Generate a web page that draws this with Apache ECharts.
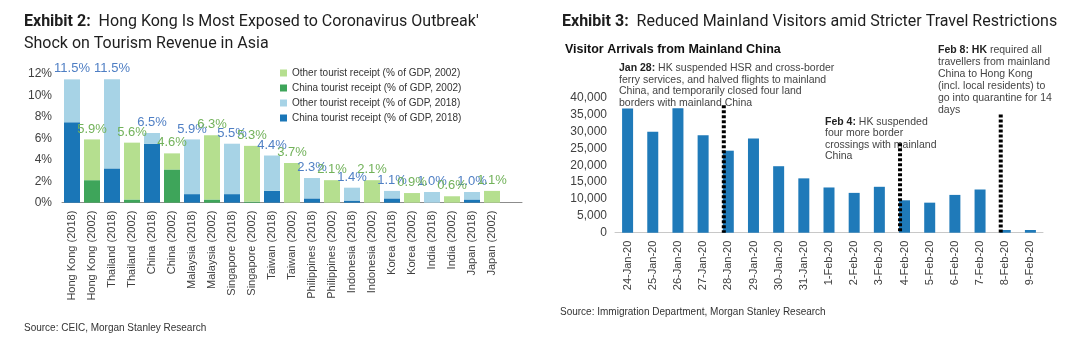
<!DOCTYPE html>
<html>
<head>
<meta charset="utf-8">
<script src="https://cdn.jsdelivr.net/npm/echarts@6/dist/echarts.min.js"></script>
<style>
  html, body { margin: 0; padding: 0; background: #ffffff; }
  #chart { width: 1080px; height: 349px; }
</style>
</head>
<body>
<div id="chart"></div>
<script>
// ---- Exhibit 2: tourism receipts as % of GDP ----
const tourismCategories = [
  'Hong Kong (2018)', 'Hong Kong (2002)', 'Thailand (2018)', 'Thailand (2002)',
  'China (2018)', 'China (2002)', 'Malaysia (2018)', 'Malaysia (2002)',
  'Singapore (2018)', 'Singapore (2002)', 'Taiwan (2018)', 'Taiwan (2002)',
  'Philippines (2018)', 'Philippines (2002)', 'Indonesia (2018)', 'Indonesia (2002)',
  'Korea (2018)', 'Korea (2002)', 'India (2018)', 'India (2002)',
  'Japan (2018)', 'Japan (2002)'
];
// total tourist receipts (% of GDP)
const totalReceipts = [11.5, 5.9, 11.5, 5.6, 6.5, 4.6, 5.9, 6.3, 5.5, 5.3, 4.4, 3.7,
                       2.3, 2.1, 1.4, 2.1, 1.1, 0.9, 1.0, 0.6, 1.0, 1.1];
// receipts from Chinese tourists (% of GDP)
const chinaReceipts = [7.5, 2.1, 3.2, 0.3, 5.5, 3.1, 0.8, 0.3, 0.8, 0.1, 1.1, 0,
                       0.4, 0, 0.2, 0, 0.4, 0, 0, 0, 0.3, 0];
const receiptTicks = [0, 2, 4, 6, 8, 10, 12];

// ---- Exhibit 3: daily visitor arrivals from mainland China ----
const arrivalDates = ['24-Jan-20', '25-Jan-20', '26-Jan-20', '27-Jan-20', '28-Jan-20',
  '29-Jan-20', '30-Jan-20', '31-Jan-20', '1-Feb-20', '2-Feb-20', '3-Feb-20',
  '4-Feb-20', '5-Feb-20', '6-Feb-20', '7-Feb-20', '8-Feb-20', '9-Feb-20'];
const arrivals = [36800, 29900, 36900, 28900, 24300, 27900, 19700, 16100, 13400,
                  11800, 13600, 9600, 8900, 11200, 12800, 800, 800];
// policy events: date and height of the marker line
const eventDates = ['28-Jan-20', '4-Feb-20', '8-Feb-20'];
const eventLineTops = [37800, 26500, 35000];

const FONT = '"Liberation Sans", Arial, sans-serif';
const C = {
  china18: '#1a76b7', other18: '#a7d3e6',
  china02: '#3ea55a', other02: '#b5df8f',
  label18: '#4f7fc4', label02: '#72b25a',
  arrivals: '#1f7ab9'
};

const is2018 = tourismCategories.map(c => c.indexOf('2018') >= 0);
const pick = (arr, want2018) => arr.map((v, i) => (is2018[i] === want2018 ? v : null));
const otherReceipts = totalReceipts.map((t, i) => +(t - chinaReceipts[i]).toFixed(2));

// trailing blank band keeps the axis running past the last pair
const tourismAxis = tourismCategories.concat(['']);

function totalLabel(color) {
  return {
    show: true, position: 'top', distance: 4,
    fontFamily: FONT, fontSize: 13, color: color,
    formatter: p => totalReceipts[p.dataIndex].toFixed(1) + '%'
  };
}

const chart = echarts.init(document.getElementById('chart'));
const barW = 11;

const noteStyle = (text, lh) => ({
  text: text,
  font: '10.5px ' + FONT, fill: '#444', lineHeight: lh,
  rich: { b: { fontFamily: FONT, fontSize: 10.5, fontWeight: 'bold', fill: '#222', lineHeight: lh } }
});

chart.setOption({
  animation: false,
  textStyle: { fontFamily: FONT },
  grid: [
    { left: 62, top: 74, width: 460, height: 128.7 },
    { left: 615, top: 97.7, width: 428, height: 135 }
  ],
  legend: {
    left: 275, top: 62, orient: 'vertical',
    icon: 'rect', itemWidth: 7, itemHeight: 7, itemGap: 3,
    textStyle: { fontFamily: FONT, fontSize: 10, color: '#333', lineHeight: 12 },
    data: ['Other tourist receipt (% of GDP, 2002)', 'China tourist receipt (% of GDP, 2002)',
           'Other tourist receipt (% of GDP, 2018)', 'China tourist receipt (% of GDP, 2018)']
  },
  xAxis: [
    {
      gridIndex: 0, type: 'category', data: tourismAxis,
      axisLine: { lineStyle: { color: '#8c8c8c' } },
      axisTick: { interval: 1, length: 4, lineStyle: { color: '#8c8c8c' } },
      axisLabel: { interval: 0, rotate: 90, margin: 8, fontSize: 11, color: '#404040', fontFamily: FONT }
    },
    {
      gridIndex: 1, type: 'category', data: arrivalDates,
      axisLine: { lineStyle: { color: '#c8c8c8' } },
      axisTick: { interval: 0, length: 4, lineStyle: { color: '#c8c8c8' } },
      axisLabel: { interval: 0, rotate: 90, margin: 8, fontSize: 11, color: '#404040', fontFamily: FONT }
    }
  ],
  yAxis: [
    {
      gridIndex: 0, type: 'value',
      min: receiptTicks[0], max: receiptTicks[receiptTicks.length - 1], interval: 2,
      axisLine: { show: false }, axisTick: { show: false }, splitLine: { show: false },
      axisLabel: { fontSize: 12, color: '#404040', margin: 10, fontFamily: FONT, formatter: '{value}%' }
    },
    {
      gridIndex: 1, type: 'value', min: 0, max: 40000, interval: 5000,
      axisLine: { show: false }, axisTick: { show: false }, splitLine: { show: false },
      axisLabel: { fontSize: 12, color: '#404040', margin: 8, fontFamily: FONT,
                   formatter: v => v.toLocaleString('en-US') }
    }
  ],
  series: [
    {
      name: 'China tourist receipt (% of GDP, 2018)', type: 'bar', stack: 'receipt',
      xAxisIndex: 0, yAxisIndex: 0, barWidth: 16,
      itemStyle: { color: C.china18 }, data: pick(chinaReceipts, true)
    },
    {
      name: 'China tourist receipt (% of GDP, 2002)', type: 'bar', stack: 'receipt',
      xAxisIndex: 0, yAxisIndex: 0, barWidth: 16,
      itemStyle: { color: C.china02 }, data: pick(chinaReceipts, false)
    },
    {
      name: 'Other tourist receipt (% of GDP, 2018)', type: 'bar', stack: 'receipt',
      xAxisIndex: 0, yAxisIndex: 0, barWidth: 16,
      itemStyle: { color: C.other18 }, data: pick(otherReceipts, true),
      label: totalLabel(C.label18)
    },
    {
      name: 'Other tourist receipt (% of GDP, 2002)', type: 'bar', stack: 'receipt',
      xAxisIndex: 0, yAxisIndex: 0, barWidth: 16,
      itemStyle: { color: C.other02 }, data: pick(otherReceipts, false),
      label: totalLabel(C.label02)
    },
    {
      name: 'Visitor arrivals', type: 'bar', xAxisIndex: 1, yAxisIndex: 1,
      barWidth: barW, itemStyle: { color: C.arrivals }, data: arrivals
    },
    {
      name: 'Policy events', type: 'custom', xAxisIndex: 1, yAxisIndex: 1, z: 5,
      data: eventDates.map((d, i) => [d, eventLineTops[i]]),
      renderItem: (params, api) => {
        const top = api.coord([api.value(0), api.value(1)]);
        const base = api.coord([api.value(0), 0]);
        const x = top[0] - barW / 2 + 1;
        return {
          type: 'line',
          shape: { x1: x, y1: top[1], x2: x, y2: base[1] },
          style: { stroke: '#000', lineWidth: 4, lineDash: [3, 2] }
        };
      }
    }
  ],
  graphic: [
    {
      type: 'text', left: 24, top: 11,
      style: {
        text: '{b|Exhibit 2:}  Hong Kong Is Most Exposed to Coronavirus Outbreak\'\nShock on Tourism Revenue in Asia',
        font: '16px Roboto', fill: '#1e1e1e', lineHeight: 22,
        rich: { b: { fontFamily: 'Roboto', fontSize: 16, fontWeight: 'bold', fill: '#1e1e1e', lineHeight: 22 } }
      }
    },
    {
      type: 'text', left: 562, top: 11,
      style: {
        text: '{b|Exhibit 3:}  Reduced Mainland Visitors amid Stricter Travel Restrictions',
        font: '16px Roboto', fill: '#1e1e1e', lineHeight: 22,
        rich: { b: { fontFamily: 'Roboto', fontSize: 16, fontWeight: 'bold', fill: '#1e1e1e', lineHeight: 22 } }
      }
    },
    {
      type: 'text', left: 565, top: 43,
      style: { text: 'Visitor Arrivals from Mainland China', font: 'bold 12.5px ' + FONT, fill: '#111' }
    },
    {
      type: 'text', left: 619, top: 62.5,
      style: noteStyle('{b|Jan 28:} HK suspended HSR and cross-border\nferry services, and halved flights to mainland\nChina, and temporarily closed four land\nborders with mainland China', 11.5)
    },
    {
      type: 'text', left: 825, top: 116,
      style: noteStyle('{b|Feb 4:} HK suspended\nfour more border\ncrossings with mainland\nChina', 11.5)
    },
    {
      type: 'text', left: 938, top: 44,
      style: noteStyle('{b|Feb 8: HK} required all\ntravellers from mainland\nChina to Hong Kong\n(incl. local residents) to\ngo into quarantine for 14\ndays', 12)
    },
    {
      type: 'text', left: 24, top: 323,
      style: { text: 'Source: CEIC, Morgan Stanley Research', font: '10px ' + FONT, fill: '#333' }
    },
    {
      type: 'text', left: 560, top: 307,
      style: { text: 'Source: Immigration Department, Morgan Stanley Research', font: '10px ' + FONT, fill: '#333' }
    }
  ]
});
</script>
</body>
</html>
